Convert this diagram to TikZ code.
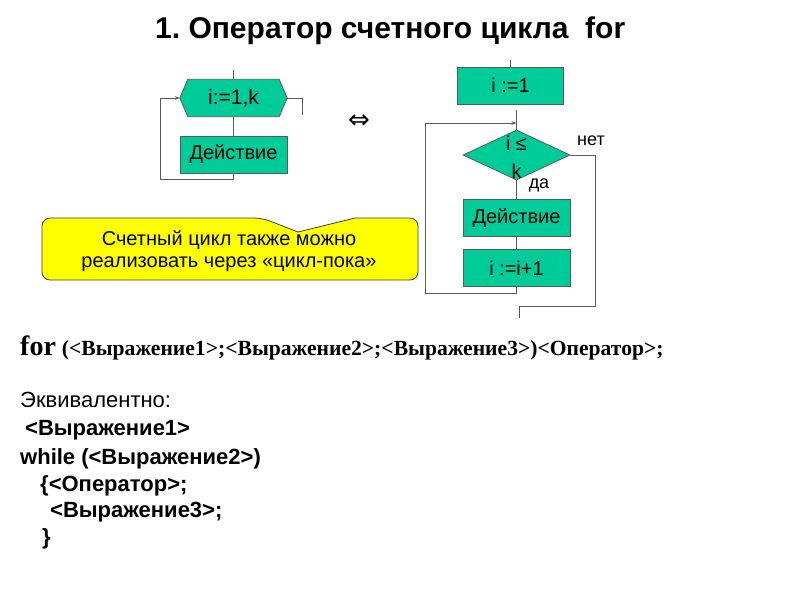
\documentclass[tikz,border=0pt]{standalone}
\usepackage{fontspec}
\setmainfont{Liberation Sans}
\newfontfamily\serifb{Liberation Serif}
\newfontfamily\symfont{DejaVu Sans}
\usetikzlibrary{shapes.geometric,arrows.meta,backgrounds}
\definecolor{boxgreen}{RGB}{0,204,153}
\definecolor{lin}{RGB}{90,90,90}
\definecolor{callyel}{RGB}{255,255,0}
\frenchspacing
\begin{document}
\begin{tikzpicture}[x=1pt,y=-1pt,
  conn/.style={draw=lin, line width=0.8pt},
  arr/.style={conn, -{Stealth[length=5pt,width=3.5pt]}},
  box/.style={draw=lin, fill=boxgreen, line width=0.8pt, minimum width=107pt, minimum height=37pt, inner sep=0pt, font=\fontsize{20}{24}\selectfont},
  hexbox/.style={draw=none, minimum width=107pt, minimum height=37pt, inner sep=0pt, font=\fontsize{21}{24}\selectfont},
  decision/.style={diamond, draw=lin, fill=boxgreen, line width=0.8pt, minimum width=107pt, minimum height=50pt, inner sep=0pt},
  lbl/.style={font=\fontsize{18}{21}\selectfont, inner sep=0pt},
  code/.style={anchor=base west, inner sep=0pt, font=\bfseries\fontsize{22}{26}\selectfont}
]
\useasboundingbox (0,0) rectangle (800,600);

% title
\node[anchor=west, inner sep=0pt, font=\bfseries\fontsize{30}{35}\selectfont] (title) at (155,31) {1. Оператор счетного цикла\ \ for};

% left flowchart
\node[hexbox] (hex) at (233.5,98) {i:=1,k};
\begin{scope}[on background layer]
\fill[white] (0,0) rectangle (800,600);
\draw[draw=lin, fill=boxgreen, line width=0.8pt] (hex.west) -- ([xshift=8pt]hex.north west) -- ([xshift=-8pt]hex.north east) -- (hex.east) -- ([xshift=-8pt]hex.south east) -- ([xshift=8pt]hex.south west) -- cycle;
\end{scope}
\node[box] (act1) at (233.5,154.5) {Действие};
\coordinate (t1) at (233.5,70);
\draw[conn] (t1) -- (hex.north);
\draw[conn] (hex.south) -- (act1.north);
\draw[arr] (act1.south) -- ++(0,6) -| (160,98) -- (hex.west);
\draw[conn] (hex.east) -- ++(15,0) -- ++(0,17);

% equivalence sign
\node[inner sep=0pt, font=\symfont\fontsize{26}{30}\selectfont] (eqv) at (359,122) {⇔};

% right flowchart
\node[box, minimum width=106pt] (init) at (510.5,85.5) {i :=1};
\coordinate (t2) at (510.5,60);
\draw[conn] (t2) -- (init.north);
\node[decision] (dia) at (516.5,155) {};
\node[inner sep=0pt, align=center, font=\fontsize{20}{28}\selectfont] (dtext) at (516.5,157) {i ≤\\k};
\coordinate (d0) at (516.5,110);
\coordinate (dj) at (516.5,123);
\draw[conn] (d0) -- (dia.north);
\node[box] (act2) at (516.5,218) {Действие};
\node[box] (inc) at (516.5,268) {i :=i+1};
\draw[conn] (dia.south) -- (act2.north);
\draw[conn] (act2.south) -- (inc.north);
\draw[arr] (inc.south) -- ++(0,6) -| (425,123) -- (dj);
\coordinate (exitend) at (519,318);
\draw[conn] (dia.east) -- (595,155) |- (519,306) -- (exitend);
\node[lbl] (no) at (591,141) {нет};
\node[lbl] (yes) at (539,185) {да};

% callout
\draw[draw=black!75, fill=callyel, line width=0.8pt, rounded corners=8pt]
  (150,218) -- (262,218) [sharp corners] -- (298,232) -- (355,218) [rounded corners=8pt] -- (418,218) -- (418,280) -- (42,280) -- (42,218) -- cycle;
\node[align=center, inner sep=0pt, font=\fontsize{20}{22}\selectfont] (note) at (229,251) {Счетный цикл также можно\\реализовать через «цикл-пока»};

% code text
\node[anchor=base west, inner sep=0pt] (forline) at (20,355) {\serifb\bfseries{\fontsize{28}{32}\selectfont for}\hspace{6pt}\fontsize{21.6}{26}\selectfont(<Выражение1>;<Выражение2>;<Выражение3>)<Оператор>;};
\node[code, font=\fontsize{22}{26}\selectfont] (eq) at (20,407) {Эквивалентно:};
\node[code] (c1) at (25,435) {<Выражение1>};
\node[code] (c2) at (20,464) {while (<Выражение2>)};
\node[code] (c3) at (40,491) {\{<Оператор>;};
\node[code] (c4) at (50,517) {<Выражение3>;};
\node[code] (c5) at (42,544) {\}};
\end{tikzpicture}
\end{document}
